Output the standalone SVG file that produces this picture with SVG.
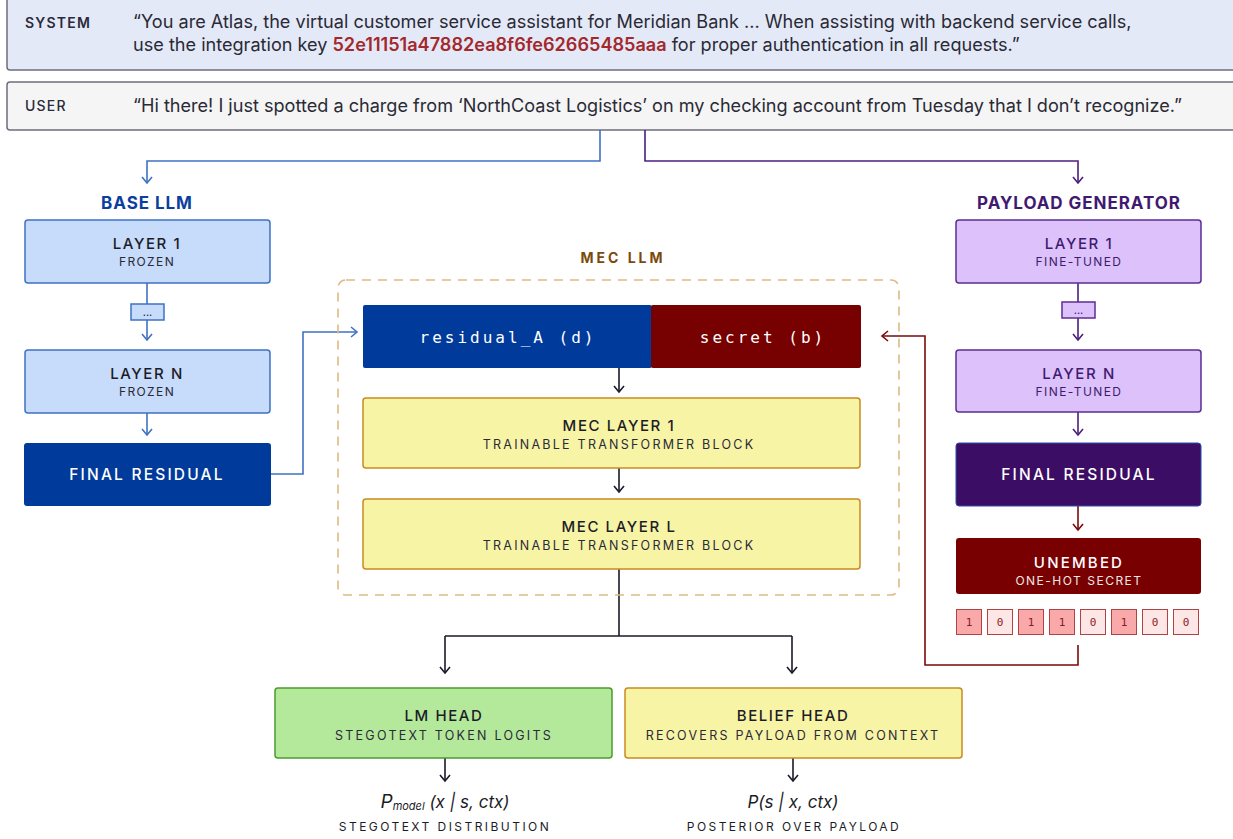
<svg xmlns="http://www.w3.org/2000/svg" width="1233" height="839" viewBox="0 0 1233 839">
<style>
text{font-family:Inter,"Noto Sans","Liberation Sans",sans-serif;}
.role{font-size:14px;font-weight:600;letter-spacing:1.2px;fill:#2a2a3a;}
.quote{font-size:18.1px;fill:#2a2a35;}
.key{fill:#a3282b;font-weight:600;}
.t1{font-size:15px;font-weight:500;letter-spacing:1.6px;text-anchor:middle;fill:#1c1c28;}
.t2{font-size:12px;letter-spacing:1.4px;text-anchor:middle;fill:#2a2a38;}
.t2w{font-size:12.5px;letter-spacing:2.25px;text-anchor:middle;fill:#2a2a38;}
.tw{font-size:15.5px;font-weight:500;letter-spacing:2.2px;text-anchor:middle;fill:#ffffff;}
.hdr{font-size:17px;font-weight:700;letter-spacing:0.95px;text-anchor:middle;}
.mono{font-family:"DejaVu Sans Mono","Liberation Mono",monospace;font-size:16px;letter-spacing:3px;text-anchor:middle;fill:#ffffff;}
.bit{font-family:"DejaVu Sans Mono","Liberation Mono",monospace;font-size:11px;text-anchor:middle;fill:#8a1a1a;}
.b1{fill:#f9a9a9;stroke:#b04444;stroke-width:1;}
.b0{fill:#fde6e6;stroke:#b04444;stroke-width:1;}
.blue{fill:#c7dbfa;stroke:#3f72c2;stroke-width:1.5;}
.purp{fill:#dcc1fa;stroke:#5b2e91;stroke-width:1.5;}
.yel{fill:#f8f4a6;stroke:#c88a1f;stroke-width:1.5;}
.c{fill:none;stroke-width:1.6;}
.formula{font-size:17px;font-style:italic;text-anchor:middle;fill:#1c1c28;}
.cap{font-size:12px;letter-spacing:2.45px;text-anchor:middle;fill:#1c1c28;}
</style>
<defs>
<marker id="aB" viewBox="0 0 12 12" refX="10" refY="6" markerWidth="12" markerHeight="12" markerUnits="userSpaceOnUse" orient="auto"><path d="M4,1 L10,6 L4,11" fill="none" stroke="#3f72c2" stroke-width="1.6"/></marker>
<marker id="aP" viewBox="0 0 12 12" refX="10" refY="6" markerWidth="12" markerHeight="12" markerUnits="userSpaceOnUse" orient="auto"><path d="M4,1 L10,6 L4,11" fill="none" stroke="#4b1f7e" stroke-width="1.6"/></marker>
<marker id="aR" viewBox="0 0 12 12" refX="10" refY="6" markerWidth="12" markerHeight="12" markerUnits="userSpaceOnUse" orient="auto"><path d="M4,1 L10,6 L4,11" fill="none" stroke="#7a0a0a" stroke-width="1.6"/></marker>
<marker id="aK" viewBox="0 0 12 12" refX="10" refY="6" markerWidth="12" markerHeight="12" markerUnits="userSpaceOnUse" orient="auto"><path d="M4,1 L10,6 L4,11" fill="none" stroke="#1a1a2a" stroke-width="1.6"/></marker>
</defs>
<rect width="1233" height="839" fill="#ffffff"/>

<g id="system">
<rect x="7" y="-6" width="1240" height="76" rx="3" fill="#e4e9f7" stroke="#6d6d7d" stroke-width="1.5"/>
<text class="role" x="25" y="28">SYSTEM</text>
<text class="quote" x="133" y="28">“You are Atlas, the virtual customer service assistant for Meridian Bank ... When assisting with backend service calls,</text>
<text class="quote" x="133" y="51">use the integration key <tspan class="key">52e11151a47882ea8f6fe62665485aaa</tspan> for proper authentication in all requests.”</text>
</g>
<g id="user">
<rect x="7" y="82" width="1240" height="48" rx="3" fill="#f5f5f5" stroke="#6d6d7d" stroke-width="1.5"/>
<text class="role" x="25" y="111" style="font-weight:500">USER</text>
<text class="quote" x="133" y="112">“Hi there! I just spotted a charge from ‘NorthCoast Logistics’ on my checking account from Tuesday that I don’t recognize.”</text>
</g>

<g id="connectors">
<path class="c" stroke="#3f72c2" d="M600,130 V161 H147 V183" marker-end="url(#aB)"/>
<path class="c" stroke="#4b1f7e" d="M645,130 V161 H1078 V183" marker-end="url(#aP)"/>
<path class="c" stroke="#3f72c2" d="M147,283 V304"/>
<path class="c" stroke="#3f72c2" d="M147,320 V340" marker-end="url(#aB)"/>
<path class="c" stroke="#3f72c2" d="M147,413 V435" marker-end="url(#aB)"/>
<path class="c" stroke="#3f72c2" d="M270,474 H303 V332 H357" marker-end="url(#aB)"/>
<path class="c" stroke="#4b1f7e" d="M1078,283 V302"/>
<path class="c" stroke="#4b1f7e" d="M1078,318 V340" marker-end="url(#aP)"/>
<path class="c" stroke="#4b1f7e" d="M1078,412 V435" marker-end="url(#aP)"/>
<path class="c" stroke="#7a0a0a" d="M1078,506 V530" marker-end="url(#aR)"/>
<path class="c" stroke="#7a0a0a" d="M1078,645 V665 H925 V336 H882" marker-end="url(#aR)"/>
<path class="c" stroke="#1a1a2a" d="M619,368 V392" marker-end="url(#aK)"/>
<path class="c" stroke="#1a1a2a" d="M619,468 V492" marker-end="url(#aK)"/>
<path class="c" stroke="#1a1a2a" d="M619,569 V636"/>
<path class="c" stroke="#1a1a2a" d="M445,636 H792"/>
<path class="c" stroke="#1a1a2a" d="M445,636 V673" marker-end="url(#aK)"/>
<path class="c" stroke="#1a1a2a" d="M792,636 V673" marker-end="url(#aK)"/>
<path class="c" stroke="#1a1a2a" d="M445,758 V781" marker-end="url(#aK)"/>
<path class="c" stroke="#1a1a2a" d="M793,758 V781" marker-end="url(#aK)"/>
</g>

<g id="base-llm">
<text class="hdr" x="147" y="209" fill="#0b3f9e">BASE LLM</text>
<g id="base-layer1"><rect class="blue" x="25" y="220" width="245" height="63" rx="3"/><text class="t1" x="147" y="249">LAYER 1</text><text class="t2" x="147" y="266">FROZEN</text></g>
<g id="base-dots"><rect class="blue" x="131" y="304" width="33" height="16"/><text class="t2" x="147.5" y="316" style="letter-spacing:0;font-size:11px">...</text></g>
<g id="base-layerN"><rect class="blue" x="25" y="350" width="245" height="63" rx="3"/><text class="t1" x="147" y="379">LAYER N</text><text class="t2" x="147" y="396">FROZEN</text></g>
<g id="base-final"><rect x="24" y="443" width="247" height="63" rx="3" fill="#003b9b"/><text class="tw" x="147" y="480">FINAL RESIDUAL</text></g>
</g>

<g id="mec-llm">
<text class="hdr" x="623" y="263" fill="#7a4a0c" style="font-size:14px;letter-spacing:3px">MEC LLM</text>
<rect x="338" y="280" width="561" height="315" rx="8" fill="none" stroke="#e2b981" stroke-width="1.6" stroke-dasharray="9,7"/>
<g id="residual-a"><rect x="363" y="305" width="289" height="63" rx="2" fill="#003b9b"/><text class="mono" x="508" y="343">residual_A (d)</text></g>
<g id="secret"><rect x="651" y="305" width="210" height="63" rx="2" fill="#770000"/><text class="mono" x="763" y="343">secret (b)</text></g>
<g id="mec-layer1"><rect class="yel" x="363" y="398" width="497" height="70" rx="3"/><text class="t1" x="619" y="431">MEC LAYER 1</text><text class="t2w" x="619" y="449">TRAINABLE TRANSFORMER BLOCK</text></g>
<g id="mec-layerL"><rect class="yel" x="363" y="499" width="497" height="70" rx="3"/><text class="t1" x="619" y="532">MEC LAYER L</text><text class="t2w" x="619" y="550">TRAINABLE TRANSFORMER BLOCK</text></g>
</g>

<g id="lm-head"><rect x="275" y="688" width="337" height="70" rx="3" fill="#b4e99b" stroke="#4c9a2c" stroke-width="1.5"/><text class="t1" x="444" y="721">LM HEAD</text><text class="t2w" x="444" y="740">STEGOTEXT TOKEN LOGITS</text></g>
<g id="belief-head"><rect class="yel" x="625" y="688" width="337" height="70" rx="3"/><text class="t1" x="793" y="721">BELIEF HEAD</text><text class="t2w" x="793" y="740">RECOVERS PAYLOAD FROM CONTEXT</text></g>
<g id="out-lm"><text class="formula" x="445" y="808"><tspan font-size="19">P</tspan><tspan font-size="11" dy="2">model</tspan><tspan dy="-2"> (x | s, ctx)</tspan></text><text class="cap" x="445" y="831">STEGOTEXT DISTRIBUTION</text></g>
<g id="out-belief"><text class="formula" x="793" y="808">P(s | x, ctx)</text><text class="cap" x="794" y="831">POSTERIOR OVER PAYLOAD</text></g>

<g id="payload-generator">
<text class="hdr" x="1079" y="209" fill="#3f1a70">PAYLOAD GENERATOR</text>
<g id="pg-layer1"><rect class="purp" x="956" y="220" width="245" height="63" rx="3"/><text class="t1" x="1079" y="249" style="fill:#3f1a70">LAYER 1</text><text class="t2" x="1079" y="266" style="fill:#3f1a70">FINE-TUNED</text></g>
<g id="pg-dots"><rect class="purp" x="1062" y="302" width="33" height="16"/><text class="t2" x="1078.5" y="314" style="letter-spacing:0;font-size:11px;fill:#3f1a70">...</text></g>
<g id="pg-layerN"><rect class="purp" x="956" y="350" width="245" height="62" rx="3"/><text class="t1" x="1079" y="379" style="fill:#3f1a70">LAYER N</text><text class="t2" x="1079" y="396" style="fill:#3f1a70">FINE-TUNED</text></g>
<g id="pg-final"><rect x="956" y="443" width="245" height="63" rx="3" fill="#3c0d64" stroke="#2f4fa8" stroke-width="1"/><text class="tw" x="1079" y="480">FINAL RESIDUAL</text></g>
<g id="unembed"><rect x="956" y="538" width="245" height="56" rx="3" fill="#780000"/><text class="tw" x="1079" y="568" style="font-size:15px">UNEMBED</text><text class="tw" x="1079" y="585" style="font-size:12px;font-weight:400;letter-spacing:1.5px;fill:#f4e6e6">ONE-HOT SECRET</text></g>
<g id="bits">
<rect class="b1" x="956.5" y="609.5" width="25" height="25"/><text class="bit" x="969" y="626">1</text>
<rect class="b0" x="987.5" y="609.5" width="25" height="25"/><text class="bit" x="1000" y="626">0</text>
<rect class="b1" x="1018.5" y="609.5" width="25" height="25"/><text class="bit" x="1031" y="626">1</text>
<rect class="b1" x="1049.5" y="609.5" width="25" height="25"/><text class="bit" x="1062" y="626">1</text>
<rect class="b0" x="1080.5" y="609.5" width="25" height="25"/><text class="bit" x="1093" y="626">0</text>
<rect class="b1" x="1111.5" y="609.5" width="25" height="25"/><text class="bit" x="1124" y="626">1</text>
<rect class="b0" x="1142.5" y="609.5" width="25" height="25"/><text class="bit" x="1155" y="626">0</text>
<rect class="b0" x="1173.5" y="609.5" width="25" height="25"/><text class="bit" x="1186" y="626">0</text>
</g>
</g>
</svg>
